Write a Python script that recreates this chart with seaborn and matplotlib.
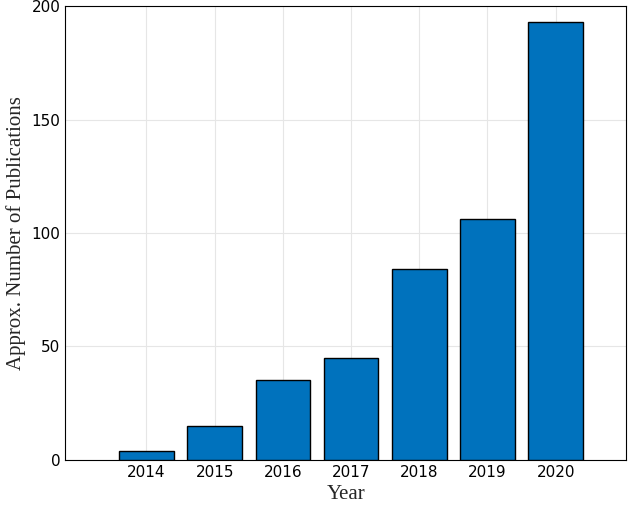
import seaborn as sns
import matplotlib.pyplot as plt

# Data
years = ["2014", "2015", "2016", "2017", "2018", "2019", "2020"]
publications = [4, 15, 35, 45, 84, 106, 193]

sns.set_style("whitegrid")
fig = plt.figure(figsize=(6.4, 5.15), dpi=100)
ax = fig.add_axes([0.102, 0.107, 0.876, 0.881])

sns.barplot(x=years, y=publications, color="#0072BD", saturation=1,
            width=0.8, edgecolor="black", linewidth=1, ax=ax, zorder=3)

ax.set_xlim(-1.19, 7.03)
ax.set_ylim(0, 200)
ax.set_yticks([0, 50, 100, 150, 200])
ax.grid(True, color="#e6e6e6", linewidth=0.8)
ax.set_axisbelow(True)
for s in ax.spines.values():
    s.set_visible(True)
    s.set_color("black")
    s.set_linewidth(0.8)
ax.tick_params(axis="both", labelsize=11, colors="black", direction="in", length=4)

ax.set_xlabel("Year", fontsize=15, family="Liberation Serif")
ax.set_ylabel("Approx. Number of Publications", fontsize=15, family="Liberation Serif")

fig.savefig("out.png", dpi=100)
